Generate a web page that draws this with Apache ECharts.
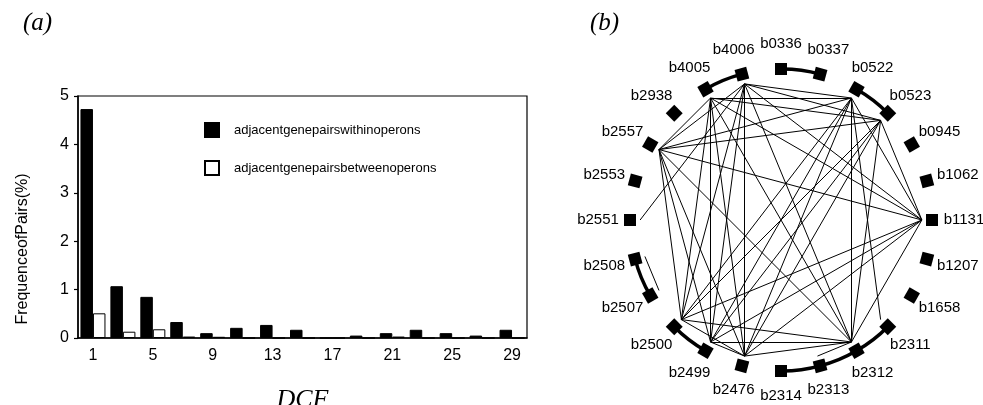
<!DOCTYPE html>
<html><head><meta charset="utf-8">
<script src="https://cdn.jsdelivr.net/npm/echarts@6/dist/echarts.min.js"></script>
<style>html,body{margin:0;padding:0;background:#fff}#c{width:983px;height:405px}</style>
</head><body><div id="c"></div>
<script>
// ---------- panel (a): bar chart ----------
const dcfCategories = ['1','3','5','7','9','11','13','15','17','19','21','23','25','27','29'];
const withinOperons = [4.73, 1.07, 0.85, 0.33, 0.10, 0.21, 0.27, 0.17, 0, 0.05, 0.10, 0.17, 0.10, 0.05, 0.17];
const betweenOperons = [0.51, 0.13, 0.18, 0.03, 0.025, 0, 0, 0, 0, 0, 0.03, 0, 0, 0, 0];
const yTicks = [0, 1, 2, 3, 4, 5];

// ---------- panel (b): gene network ----------
const genes = ['b0336','b0337','b0522','b0523','b0945','b1062','b1131','b1207','b1658','b2311','b2312','b2313',
               'b2314','b2476','b2499','b2500','b2507','b2508','b2551','b2553','b2557','b2938','b4005','b4006'];
const operonLinks = [['b4005','b4006'],['b0336','b0337'],['b0522','b0523'],['b2507','b2508'],
                     ['b2499','b2500'],['b2311','b2312'],['b2312','b2313'],['b2313','b2314']];
const coexpressionLinks = [
  ['b4006','b0522'],['b4006','b0523'],['b4006','b2557'],['b4006','b1131'],['b4006','b2500'],['b4006','b2499'],['b4006','b2476'],['b4006','b2312'],['b4006','b2551'],
  ['b4005','b0522'],['b4005','b0523'],['b4005','b2557'],['b4005','b1131'],['b4005','b2500'],['b4005','b2499'],['b4005','b2476'],['b4005','b2312'],
  ['b0522','b2557'],['b0522','b1131'],['b0522','b2500'],['b0522','b2499'],['b0522','b2476'],['b0522','b2312'],['b0522','b2311'],
  ['b0523','b2557'],['b0523','b1131'],['b0523','b2500'],['b0523','b2499'],['b0523','b2476'],['b0523','b2312'],
  ['b2557','b1131'],['b2557','b2500'],['b2557','b2499'],['b2557','b2476'],['b2557','b2312'],
  ['b1131','b2500'],['b1131','b2499'],['b1131','b2476'],['b1131','b2312'],
  ['b2500','b2476'],['b2500','b2312'],
  ['b2499','b2476'],['b2499','b2312'],
  ['b2476','b2312'],
  ['b2507','b2508'],['b2312','b2313']
];

const NODE_R = 1, INNER_R = 0.933;
const nodes = [];
genes.forEach((g, i) => {
  const th = (-90 + 15 * i) * Math.PI / 180;
  nodes.push({
    name: g, value: [NODE_R, i], symbol: 'rect', symbolSize: 12,
    symbolRotate: 90 - 15 * i,
    itemStyle: {color: '#000'},
    label: {show: true, position: 'inside', offset: [Math.cos(th) * 32, Math.sin(th) * 25],
            color: '#000', fontSize: 15, fontFamily: 'Liberation Sans, Arial, sans-serif', formatter: '{b}'}
  });
});
genes.forEach((g, i) => {
  nodes.push({name: g + '_in', value: [INNER_R, i], symbol: 'none', symbolSize: 0, label: {show: false}});
});
const edges = [];
operonLinks.forEach(([a, b]) => edges.push({source: a, target: b,
  lineStyle: {width: 3.5, color: '#000', opacity: 1, curveness: 0.07}}));
coexpressionLinks.forEach(([a, b]) => edges.push({source: a + '_in', target: b + '_in',
  lineStyle: {width: 1, color: '#000', opacity: 1, curveness: 0}}));

const chart = echarts.init(document.getElementById('c'), null, {renderer: 'canvas'});
const axisFont = {color: '#000', fontSize: 16, fontFamily: 'Liberation Sans, Arial, sans-serif'};
chart.setOption({
  animation: false,
  backgroundColor: '#fff',
  title: [
    {text: '(a)', left: 18, top: 6, textStyle: {fontFamily: 'Liberation Serif, serif', fontStyle: 'italic', fontWeight: 'normal', fontSize: 25, color: '#000'}},
    {text: '(b)', left: 585, top: 6, textStyle: {fontFamily: 'Liberation Serif, serif', fontStyle: 'italic', fontWeight: 'normal', fontSize: 25, color: '#000'}}
  ],
  legend: {
    orient: 'vertical', left: 199, top: 117, itemWidth: 14, itemHeight: 14, itemGap: 22,
    icon: 'rect',
    data: ['adjacentgenepairswithinoperons', 'adjacentgenepairsbetweenoperons'],
    textStyle: {color: '#000', fontSize: 13, fontFamily: 'Liberation Sans, Arial, sans-serif', padding: [0, 0, 0, 10]}
  },
  grid: {left: 78, right: 456, top: 96, bottom: 67, show: true, borderColor: '#000', borderWidth: 1.2,
         containLabel: false, outerBoundsMode: 'none'},
  xAxis: {
    type: 'category', data: dcfCategories,
    name: 'DCF', nameLocation: 'middle', nameGap: 49,
    nameTextStyle: {fontFamily: 'Liberation Serif, serif', fontStyle: 'italic', fontSize: 26, color: '#000'},
    axisLine: {lineStyle: {color: '#000', width: 1.5}},
    axisTick: {interval: 1, alignWithLabel: true, length: 4, lineStyle: {color: '#000', width: 1.2}},
    axisLabel: Object.assign({interval: 1, margin: 10}, axisFont)
  },
  yAxis: {
    type: 'value', min: yTicks[0], max: yTicks[yTicks.length - 1], interval: 1,
    name: 'FrequenceofPairs(%)', nameLocation: 'middle', nameGap: 47,
    nameTextStyle: {fontFamily: 'Liberation Sans, Arial, sans-serif', fontSize: 16, color: '#000', padding: [0, 64, 0, 0]},
    splitLine: {show: false},
    axisLine: {show: true, lineStyle: {color: '#000', width: 1.5}},
    axisTick: {show: true, length: 4, lineStyle: {color: '#000', width: 1.2}},
    axisLabel: Object.assign({margin: 9}, axisFont)
  },
  polar: {center: [781, 220], radius: 181.2},
  angleAxis: {type: 'category', data: genes, boundaryGap: false, startAngle: 90, clockwise: true,
    axisLine: {show: false}, axisTick: {show: false}, axisLabel: {show: false}, splitLine: {show: false}},
  radiusAxis: {type: 'value', min: 0, max: 1.2,
    axisLine: {show: false}, axisTick: {show: false}, axisLabel: {show: false}, splitLine: {show: false}},
  series: [
    {name: 'adjacentgenepairswithinoperons', type: 'bar', data: withinOperons, barWidth: 12.5, barGap: '0%',
     itemStyle: {color: '#000', borderColor: '#000', borderWidth: 1}},
    {name: 'adjacentgenepairsbetweenoperons', type: 'bar', data: betweenOperons, barWidth: 12.5, barGap: '0%',
     itemStyle: {color: '#fff', borderColor: '#000', borderWidth: 1}},
    {name: 'network', type: 'graph', coordinateSystem: 'polar', polarIndex: 0, layout: 'none', roam: false,
     data: nodes, links: edges, emphasis: {disabled: true}, z: 3}
  ]
});
</script></body></html>
